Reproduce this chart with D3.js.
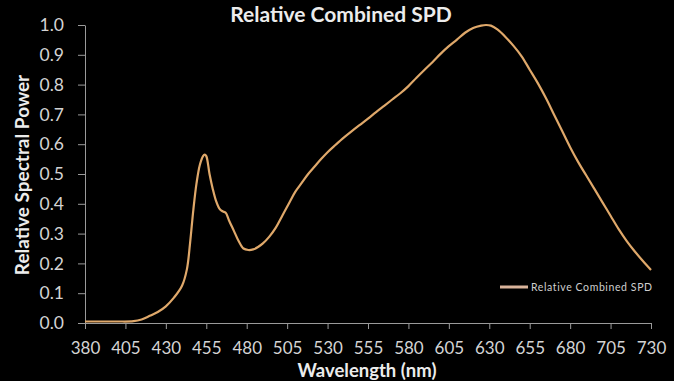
<!DOCTYPE html>
<html>
<head>
<meta charset="utf-8">
<script src="https://cdn.jsdelivr.net/npm/d3@7"></script>
<style>
  html, body { margin: 0; padding: 0; background: #000; }
  svg { display: block; }
</style>
</head>
<body>
<svg id="chart" width="674" height="381"></svg>
<script>
// Wavelength samples (nm) and relative spectral power of the combined source
const wavelengths = [380, 390, 400, 410, 415, 420, 425, 430, 435, 440, 443, 445, 447, 449, 451, 453, 454, 455, 457, 459,
  461, 463, 465, 467, 469, 472, 475, 478, 481, 484, 487, 490, 494, 498, 502, 506, 510, 514, 518, 522,
  526, 530, 535, 540, 545, 550, 555, 560, 565, 570, 575, 580, 585, 590, 595, 600, 605, 610, 615, 620,
  625, 628, 631, 635, 640, 645, 650, 655, 660, 665, 670, 675, 680, 685, 690, 695, 700, 705, 710, 715,
  720, 725, 730];
const relativePower = [0.005, 0.005, 0.005, 0.006, 0.012, 0.024, 0.037, 0.056, 0.085, 0.125, 0.18, 0.27, 0.38, 0.47, 0.53, 0.56, 0.565, 0.56, 0.50, 0.45,
  0.41, 0.385, 0.375, 0.37, 0.345, 0.31, 0.275, 0.25, 0.245, 0.247, 0.255, 0.267, 0.29, 0.32, 0.36, 0.40, 0.44, 0.47, 0.50, 0.525,
  0.55, 0.573, 0.598, 0.622, 0.644, 0.665, 0.686, 0.708, 0.729, 0.75, 0.771, 0.795, 0.823, 0.85, 0.876, 0.904, 0.929, 0.951, 0.974, 0.99,
  0.998, 1.0, 0.998, 0.985, 0.96, 0.93, 0.895, 0.85, 0.805, 0.755, 0.70, 0.645, 0.59, 0.54, 0.495, 0.45, 0.405, 0.36, 0.315, 0.275,
  0.24, 0.208, 0.178];

const xTicks = [380, 405, 430, 455, 480, 505, 530, 555, 580, 605, 630, 655, 680, 705, 730];
const yTicks = [0.0, 0.1, 0.2, 0.3, 0.4, 0.5, 0.6, 0.7, 0.8, 0.9, 1.0];

const chartTitle = "Relative Combined SPD";
const xTitle = "Wavelength (nm)";
const yTitle = "Relative Spectral Power";
const seriesName = "Relative Combined SPD";

const W = 674, H = 381;
const plot = { left: 85, right: 651, top: 25, bottom: 323 };
const font = "Lato, 'Open Sans', sans-serif";
const axisColor = "#9a9a9a";
const labelColor = "#d4d4d4";
const lineColor = "#dfa86a";

const svg = d3.select("#chart");
svg.append("rect").attr("width", W).attr("height", H).attr("fill", "#000");

const x = d3.scaleLinear().domain([380, 730]).range([plot.left, plot.right]);
const y = d3.scaleLinear().domain([0, 1]).range([plot.bottom, plot.top]);

// Y axis
const yAxis = svg.append("g")
  .attr("transform", `translate(${plot.left},0)`)
  .call(d3.axisLeft(y).tickValues(yTicks).tickFormat(d3.format(".1f")).tickSize(7).tickSizeOuter(0).tickPadding(14));
yAxis.select(".domain").attr("stroke", axisColor);
yAxis.selectAll(".tick line").attr("stroke", axisColor);
yAxis.selectAll(".tick text")
  .attr("fill", labelColor).attr("font-family", font).attr("font-size", 17.5);

// X axis
const xAxis = svg.append("g")
  .attr("transform", `translate(0,${plot.bottom})`)
  .call(d3.axisBottom(x).tickValues(xTicks).tickFormat(d3.format("d")).tickSize(6).tickSizeOuter(0).tickPadding(13));
xAxis.select(".domain").attr("stroke", axisColor);
xAxis.selectAll(".tick line").attr("stroke", axisColor);
xAxis.selectAll(".tick text")
  .attr("fill", labelColor).attr("font-family", font).attr("font-size", 17);

// Spectrum curve
const points = wavelengths.map((w, i) => [w, relativePower[i]]);
svg.append("path")
  .datum(points)
  .attr("fill", "none")
  .attr("stroke", lineColor)
  .attr("stroke-width", 2.2)
  .attr("stroke-linejoin", "round")
  .attr("d", d3.line().x(d => x(d[0])).y(d => y(d[1])).curve(d3.curveCatmullRom.alpha(0.5)));

// Titles
svg.append("text")
  .attr("x", 341).attr("y", 22)
  .attr("text-anchor", "middle")
  .attr("font-family", font).attr("font-weight", "bold").attr("font-size", 21)
  .attr("fill", "#ececec")
  .text(chartTitle);

svg.append("text")
  .attr("x", 367).attr("y", 377)
  .attr("text-anchor", "middle")
  .attr("font-family", font).attr("font-weight", "bold").attr("font-size", 18.5)
  .attr("fill", "#ececec")
  .text(xTitle);

svg.append("text")
  .attr("transform", "translate(29,175) rotate(-90)")
  .attr("text-anchor", "middle")
  .attr("font-family", font).attr("font-weight", "bold").attr("font-size", 19)
  .attr("fill", "#ececec")
  .text(yTitle);

// Legend
const legend = svg.append("g").attr("transform", "translate(500,287)");
legend.append("line")
  .attr("x1", 0).attr("x2", 28).attr("y1", 0).attr("y2", 0)
  .attr("stroke", "#d9b39a").attr("stroke-width", 3);
legend.append("text")
  .attr("x", 31).attr("y", 0).attr("dy", "0.35em")
  .attr("font-family", font).attr("font-size", 10.5).attr("letter-spacing", 0.6)
  .attr("fill", "#cfcfcf")
  .text(seriesName);
</script>
</body>
</html>
